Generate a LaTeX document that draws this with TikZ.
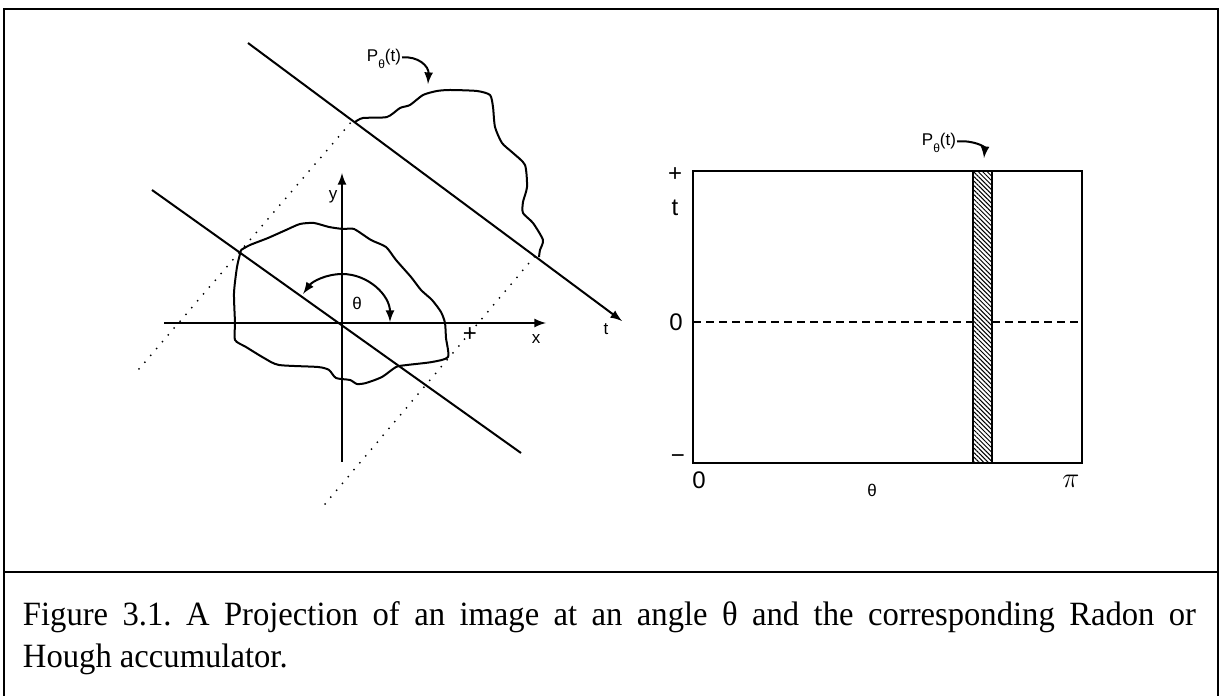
\documentclass[tikz,border=0pt]{standalone}
\usepackage{fontspec}
\setmainfont{Liberation Serif}
\setsansfont{Liberation Sans}
\newfontfamily\capfont[FakeStretch=0.96]{Liberation Serif}
\usetikzlibrary{patterns.meta}

\begin{document}
\begin{tikzpicture}[x=0.5pt,y=0.5pt,>=latex,line width=1pt,
  lbl/.style={font=\sffamily\fontsize{8.5}{9}\selectfont,inner sep=0pt},
  biglbl/.style={font=\sffamily\fontsize{12}{12}\selectfont,inner sep=0pt},
  ray/.style={dash pattern=on 0pt off 4.5pt,line cap=round}]
\useasboundingbox (0,0) rectangle (1221,696);

% frame and caption rule
\draw[line width=1.2pt] (4,-5) -- (4,687) -- (1218,687) -- (1218,-5);
\draw[line width=1.2pt] (4,124) -- (1218,124);

% left: axes, rays, object and its projection
\coordinate (O) at (342,374);
\draw[->] (164,373) -- (546,373) coordinate (xend);
\draw[->] (342,234) -- (342,523) coordinate (yend);
\draw (152,506) -- (521,243);
\draw[->] (248,653) -- (622,375) coordinate (tend);
\draw[ray] (139,327) -- (353,576);
\draw[ray] (325,192) -- (535,440);
\draw[<->] ([shift={(0:48)}]O) arc[start angle=0,end angle=144,radius=48];

\draw[line join=round] plot[smooth,tension=0.4] coordinates {
  (241,446) (250,451) (268,458) (286,466) (300,472) (314,473) (329,469)
  (343,467) (354,467) (371,456) (386,449) (396,436) (411,419) (421,406)
  (432,396) (441,384) (445,373) (446,358) (448,339) (432,334) (407,331)
  (396,329) (382,319) (366,313) (357,312) (350,316) (336,318) (329,326)
  (318,329) (279,331) (264,338) (246,349) (235,356) (235,373) (234,403)
  (237,429) (241,446)};
\draw[line join=round] plot[smooth,tension=0.4] coordinates {
  (355,574) (363,578) (387,579) (400,588) (410,591) (423,601) (437,605)
  (450,606) (477,605) (490,601) (493,589) (495,569) (502,553) (513,543)
  (525,531) (527,509) (523,494) (523,483) (533,473) (543,456) (540,446)
  (539,439)};

\node[lbl] (ylab) at (333,499) {y};
\node[lbl] (xlab) at (536,357) {x};
\node[lbl] (tlab) at (606,367) {t};
\node[lbl] (thlab) at (357,393) {θ};
\node[biglbl] (plus) at (470,361) {+};
\node[lbl] (pleft) at (384,637) {P\raisebox{-0.7ex}{\fontsize{6}{6}\selectfont θ}(t)};
\coordinate (ptipL) at (428,612);
\draw[->] (pleft) .. controls (418,640) and (429,630) .. (ptipL);

% right: accumulator
\draw (693,233) rectangle (1082,525);
\draw[dash pattern=on 4pt off 2.5pt] (693,374) -- (1082,374);
\fill[white] (973,233) rectangle (992,525);
\fill[pattern={Lines[angle=-45,distance=1.6pt,line width=0.5pt]}] (973,233) rectangle (992,525);
\draw (973,233) rectangle (992,525);

\node[biglbl] (tplus) at (675,521) {+};
\node[biglbl] (tname) at (675,488) {t};
\node[biglbl] (tzero) at (676,374) {0};
\node[biglbl] (tminus) at (678,237) {−};
\node[biglbl] (thzero) at (699,216) {0};
\node[lbl] (thname) at (872,206) {θ};
\node[inner sep=0pt,font=\fontsize{14}{14}\selectfont] (thpi) at (1071,215) {$\pi$};
\node[lbl] (pright) at (939,553) {P\raisebox{-0.7ex}{\fontsize{6}{6}\selectfont θ}(t)};
\coordinate (ptipR) at (984,538);
\draw[->] (pright) .. controls (974,556) and (985,549) .. (ptipR);

% caption
\node[anchor=north west,inner sep=0pt,text width=586.5pt,align=justify,
  font=\capfont\fontsize{17}{21}\selectfont] (cap) at (22,95)
  {\frenchspacing Figure 3.1. A Projection of an image at an angle θ and the corresponding Radon or\linebreak
   Hough accumulator.};
\end{tikzpicture}
\end{document}
